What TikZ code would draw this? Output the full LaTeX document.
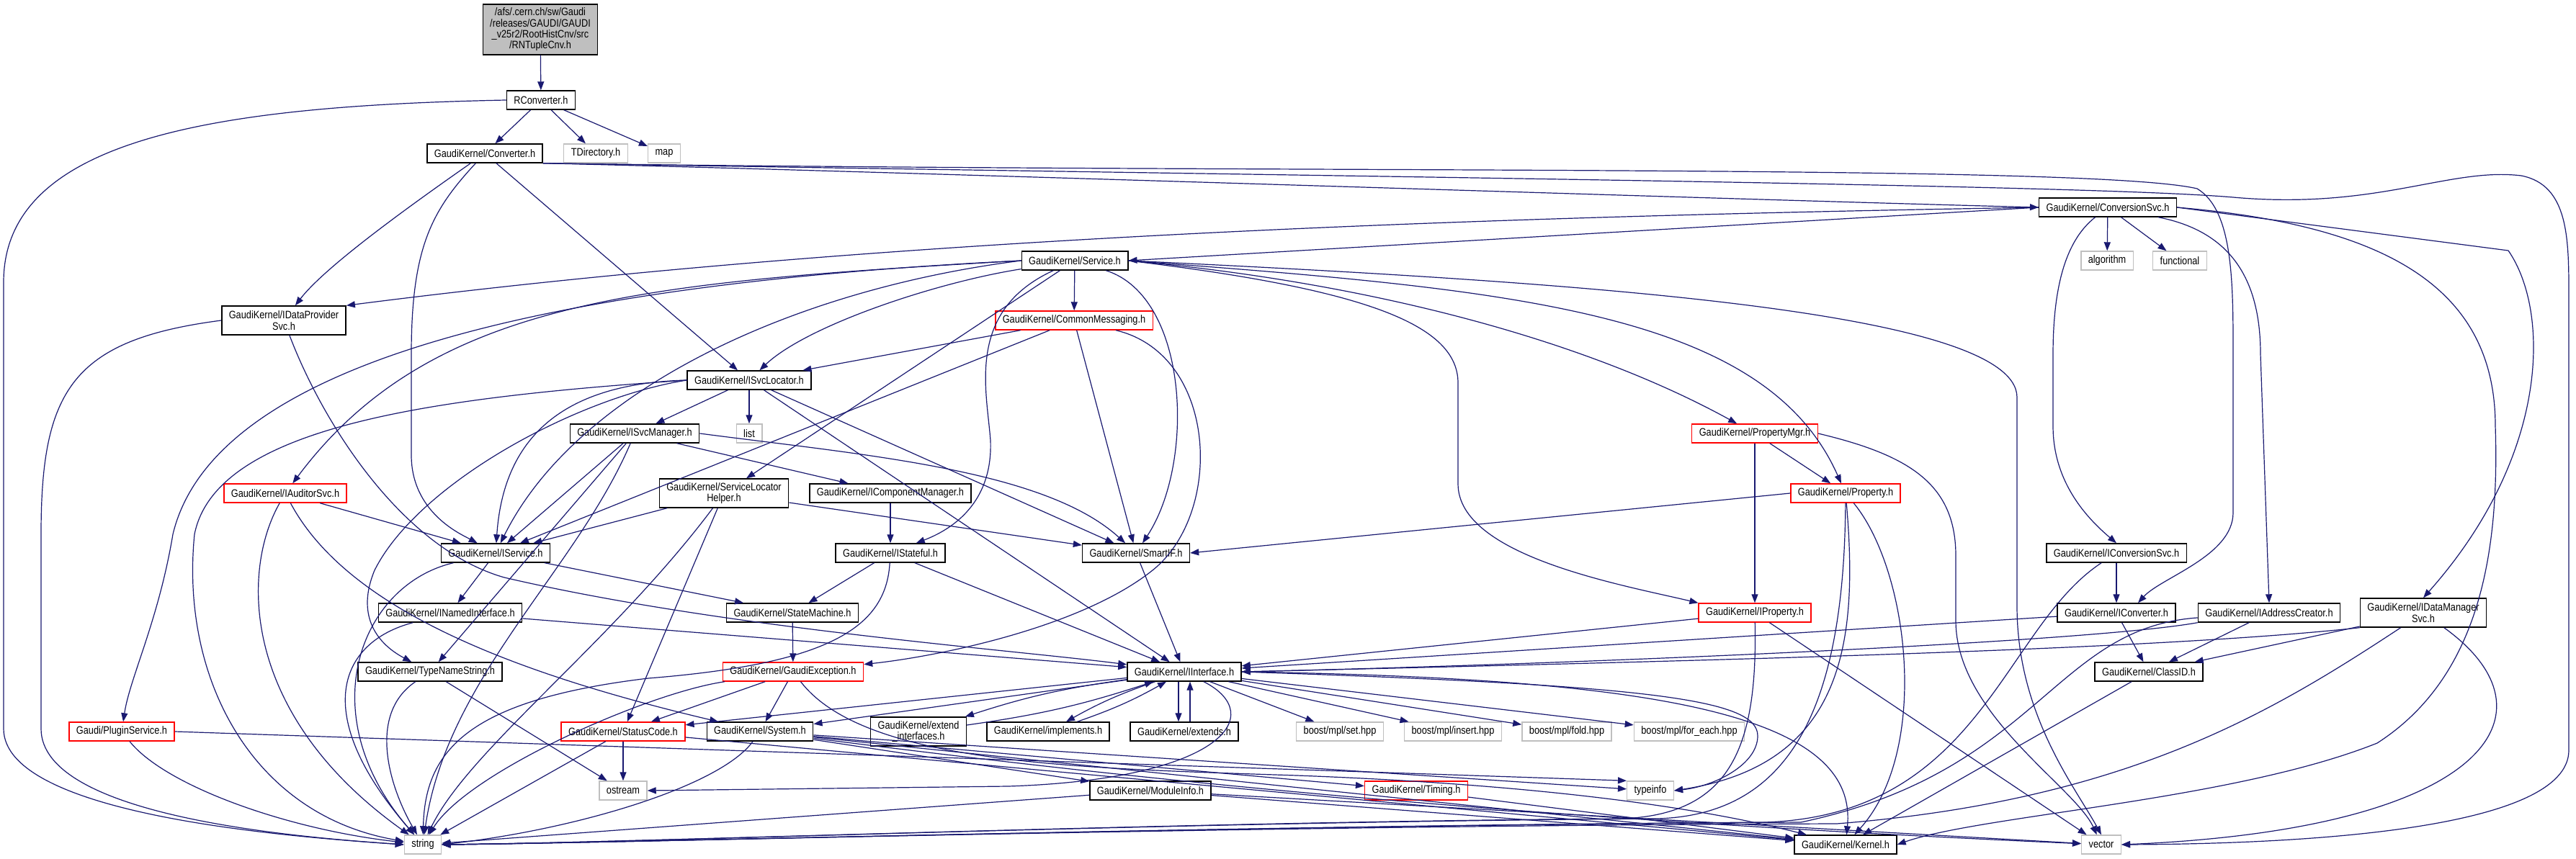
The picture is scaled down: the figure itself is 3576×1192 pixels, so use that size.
\documentclass[tikz,border=0pt]{standalone}
\usepackage{fontspec}
\setmainfont{Liberation Sans}[FakeStretch=0.85]
\usepackage{xcolor}
\usetikzlibrary{arrows.meta}

\definecolor{edgeblue}{HTML}{191970}
\definecolor{sysgray}{HTML}{BFBFBF}

\begin{document}
\begin{tikzpicture}[
  x=1pt, y=1pt,
  every node/.style={font=\fontsize{15}{15.3}\selectfont, inner xsep=10pt, inner ysep=2pt, minimum height=26pt},
  hdr/.style={draw=black, line width=1.4pt, fill=white},
  redhdr/.style={draw=red, line width=1.4pt, fill=white},
  syshdr/.style={draw=sysgray, line width=1.4pt, fill=white},
  dep/.style={draw=edgeblue, line width=1.2pt, -{Triangle[length=12pt, width=9pt]}},
]

\fill[white] (0,0) rectangle (3576,1192);
\useasboundingbox (0,0) rectangle (3576,1192);

\node[hdr, fill=sysgray, align=center, minimum height=70pt] (root) at (750,1151) {/afs/.cern.ch/sw/Gaudi\\/releases/GAUDI/GAUDI\\\_v25r2/RootHistCnv/src\\/RNTupleCnv.h};

\node[hdr] (rconv) at (751,1053) {RConverter.h};
\node[hdr] (conv) at (673,979) {GaudiKernel/Converter.h};
\node[syshdr] (tdir) at (827,979) {TDirectory.h};
\node[syshdr] (map) at (922,979) {map};
\node[hdr] (convsvc) at (2926,904) {GaudiKernel/ConversionSvc.h};
\node[hdr] (service) at (1492,830) {GaudiKernel/Service.h};
\node[syshdr] (algorithm) at (2925,830) {algorithm};
\node[syshdr] (functional) at (3026,830) {functional};
\node[hdr, align=center, minimum height=40pt] (idataprov) at (394,747) {GaudiKernel/IDataProvider\\Svc.h};
\node[redhdr] (commsg) at (1491,747) {GaudiKernel/CommonMessaging.h};
\node[hdr] (isvcloc) at (1040,664) {GaudiKernel/ISvcLocator.h};
\node[syshdr] (list) at (1040,590) {list};
\node[hdr] (isvcmgr) at (881,590) {GaudiKernel/ISvcManager.h};
\node[redhdr] (propmgr) at (2436,590) {GaudiKernel/PropertyMgr.h};
\node[redhdr] (iauditor) at (396,507) {GaudiKernel/IAuditorSvc.h};
\node[hdr, align=center, minimum height=40pt] (slochelper) at (1005,507) {GaudiKernel/ServiceLocator\\Helper.h};
\node[hdr] (icompmgr) at (1236,507) {GaudiKernel/IComponentManager.h};
\node[redhdr] (property) at (2562,507) {GaudiKernel/Property.h};
\node[hdr] (iservice) at (688,424) {GaudiKernel/IService.h};
\node[hdr] (istateful) at (1236,424) {GaudiKernel/IStateful.h};
\node[hdr] (smartif) at (1577,424) {GaudiKernel/SmartIF.h};
\node[hdr] (iconvsvc) at (2938,424) {GaudiKernel/IConversionSvc.h};
\node[hdr] (inamed) at (625,341) {GaudiKernel/INamedInterface.h};
\node[hdr] (statemach) at (1100,341) {GaudiKernel/StateMachine.h};
\node[redhdr] (iproperty) at (2436,341) {GaudiKernel/IProperty.h};
\node[hdr] (iconverter) at (2938,341) {GaudiKernel/IConverter.h};
\node[hdr] (iaddr) at (3150,341) {GaudiKernel/IAddressCreator.h};
\node[hdr, align=center, minimum height=40pt] (idatamgr) at (3364,341) {GaudiKernel/IDataManager\\Svc.h};
\node[hdr] (typename) at (597,259) {GaudiKernel/TypeNameString.h};
\node[redhdr] (gexcept) at (1101,259) {GaudiKernel/GaudiException.h};
\node[hdr] (iinterface) at (1644,259) {GaudiKernel/IInterface.h};
\node[hdr] (classid) at (2983,259) {GaudiKernel/ClassID.h};
\node[redhdr] (plugin) at (169,176) {Gaudi/PluginService.h};
\node[redhdr] (statuscode) at (865,176) {GaudiKernel/StatusCode.h};
\node[hdr] (system) at (1055,176) {GaudiKernel/System.h};
\node[hdr, align=center, minimum height=40pt] (extendif) at (1275,176) {GaudiKernel/extend\\\_interfaces.h};
\node[hdr] (implements) at (1455,176) {GaudiKernel/implements.h};
\node[hdr] (extends) at (1644,176) {GaudiKernel/extends.h};
\node[syshdr] (mplset) at (1860,176) {boost/mpl/set.hpp};
\node[syshdr] (mplinsert) at (2017,176) {boost/mpl/insert.hpp};
\node[syshdr] (mplfold) at (2175,176) {boost/mpl/fold.hpp};
\node[syshdr] (mplforeach) at (2345,176) {boost/mpl/for\_each.hpp};
\node[syshdr] (ostream) at (865,94) {ostream};
\node[hdr] (moduleinfo) at (1597,94) {GaudiKernel/ModuleInfo.h};
\node[redhdr] (timing) at (1966,94) {GaudiKernel/Timing.h};
\node[syshdr] (typeinfo) at (2291,94) {typeinfo};
\node[syshdr] (string) at (587,19) {string};
\node[hdr] (kernel) at (2562,19) {GaudiKernel/Kernel.h};
\node[syshdr] (vector) at (2917,19) {vector};

% top of the graph
\draw[dep] (root) -- (rconv);
\draw[dep] (rconv) -- (conv);
\draw[dep] (rconv) -- (tdir);
\draw[dep] (rconv) -- (map);
\draw[dep] (rconv.west) .. controls (300,1045) and (5,1000) .. (5,800) -- (5,180) .. controls (5,60) and (400,30) .. (string.west);

\draw[dep] (conv) .. controls (560,900) and (450,820) .. (idataprov);
\draw[dep] (conv) -- (isvcloc);
\draw[dep] (conv) .. controls (600,900) and (571,850) .. (571,700) -- (571,560) .. controls (571,480) and (640,450) .. (iservice);
\draw[dep] (conv.south east) .. controls (1200,955) and (2400,915) .. (convsvc.west);
\draw[dep] (conv.south east) .. controls (1800,950) and (2900,965) .. (3050,930) .. controls (3100,900) and (3100,800) .. (3100,700) -- (3100,480) .. controls (3100,420) and (3000,390) .. ([xshift=30pt]iconverter.north);
\draw[dep] (conv.south east) .. controls (2000,945) and (2900,935) .. (3100,918) .. controls (3300,900) and (3400,960) .. (3500,948) .. controls (3566,935) and (3566,860) .. (3566,780) -- (3566,150) .. controls (3566,40) and (3200,20) .. (vector.east);

% ConversionSvc.h
\draw[dep] (convsvc.west) -- (service.east);
\draw[dep] (convsvc.west) .. controls (2000,890) and (1200,860) .. (idataprov.north east);
\draw[dep] (convsvc) -- (algorithm);
\draw[dep] (convsvc) -- (functional);
\draw[dep] (convsvc) .. controls (2870,860) and (2850,800) .. (2850,700) -- (2850,600) .. controls (2850,520) and (2900,470) .. (iconvsvc.north);
\draw[dep] (convsvc) .. controls (3100,870) and (3138,800) .. (3138,700) -- (iaddr.north);
\draw[dep] (convsvc.east) -- (3482,844) .. controls (3540,760) and (3540,560) .. (idatamgr.north);
\draw[dep] (convsvc.east) .. controls (3300,880) and (3464,800) .. (3464,600) .. controls (3470,420) and (3440,250) .. (3300,160) .. controls (3100,80) and (2750,60) .. (kernel.east);

% Service.h
\draw[dep] (service) -- (commsg);
\draw[dep] (service) .. controls (1300,800) and (1120,740) .. (isvcloc);
\draw[dep] (service.west) .. controls (1100,790) and (800,650) .. (iservice);
\draw[dep] (service) -- (slochelper);
\draw[dep] (service) .. controls (1340,760) and (1370,650) .. (1375,580) .. controls (1378,500) and (1330,460) .. (istateful);
\draw[dep] (service) .. controls (1650,780) and (1660,550) .. (smartif);
\draw[dep] (service.east) .. controls (1900,790) and (2024,740) .. (2024,660) -- (2024,520) .. controls (2024,420) and (2250,380) .. (iproperty.north west);
\draw[dep] (service.east) .. controls (1900,800) and (2200,720) .. (propmgr);
\draw[dep] (service.east) .. controls (2100,790) and (2450,760) .. (property);
\draw[dep] (service.east) .. controls (2200,800) and (2800,760) .. (2800,640) -- (2800,350) .. controls (2800,200) and (2880,100) .. (vector.north);
\draw[dep] (service.west) .. controls (900,800) and (600,780) .. (iauditor);
\draw[dep] (service.west) .. controls (800,800) and (300,700) .. (240,450) .. controls (220,330) and (180,250) .. (plugin);

% CommonMessaging.h
\draw[dep] (commsg) -- (isvcloc);
\draw[dep] (commsg) -- (iservice);
\draw[dep] (commsg) -- (smartif);
\draw[dep] (commsg) .. controls (1690,700) and (1700,480) .. (1600,400) .. controls (1500,320) and (1300,280) .. (gexcept);

% ISvcLocator.h, ISvcManager.h
\draw[dep] (isvcloc) -- (isvcmgr);
\draw[dep] (isvcloc) -- (list);
\draw[dep] (isvcloc) -- (iinterface);
\draw[dep] (isvcloc) -- (smartif);
\draw[dep] (isvcloc.west) .. controls (800,660) and (700,600) .. (iservice);
\draw[dep] (isvcloc.west) .. controls (600,640) and (300,600) .. (270,450) .. controls (250,250) and (350,60) .. (string);
\draw[dep] (isvcloc.west) .. controls (800,640) and (580,520) .. (520,400) .. controls (495,340) and (520,300) .. (typename);
\draw[dep] (isvcmgr) -- (icompmgr);
\draw[dep] (isvcmgr.east) .. controls (1200,560) and (1450,540) .. (smartif);
\draw[dep] (isvcmgr) -- (iservice);
\draw[dep] (isvcmgr) -- (typename);
\draw[dep] (isvcmgr) .. controls (800,400) and (620,250) .. (string);

% left side
\draw[dep] (iauditor) -- (iservice);
\draw[dep] (iauditor) .. controls (335,400) and (333,200) .. (string);
\draw[dep] (iauditor) .. controls (480,350) and (700,260) .. (system);
\draw[dep] (plugin) .. controls (230,100) and (400,40) .. (string);
\draw[dep] (plugin.east) -- (typeinfo.north west);
\draw[dep] (idataprov.west) .. controls (100,720) and (57,650) .. (57,450) -- (57,180) .. controls (57,60) and (400,30) .. (string.west);
\draw[dep] (idataprov) .. controls (450,600) and (560,430) .. (700,390) .. controls (1000,320) and (1400,290) .. (iinterface);

% middle
\draw[dep] (slochelper) -- (iservice);
\draw[dep] (slochelper) -- (smartif);
\draw[dep] (slochelper) -- (statuscode);
\draw[dep] (slochelper) .. controls (850,300) and (650,150) .. (string);
\draw[dep] (icompmgr) -- (istateful);
\draw[dep] (istateful) -- (statemach);
\draw[dep] (istateful) -- (iinterface);
\draw[dep] (istateful) .. controls (1230,320) and (1150,270) .. (900,250) .. controls (650,220) and (590,150) .. (string);
\draw[dep] (smartif) -- (iinterface);
\draw[dep] (statemach) -- (gexcept);
\draw[dep] (gexcept) -- (statuscode);
\draw[dep] (gexcept) -- (system);
\draw[dep] (gexcept) .. controls (900,230) and (650,120) .. (string);
\draw[dep] (gexcept) .. controls (1200,130) and (1500,125) .. (1800,115) .. controls (2200,100) and (2400,60) .. (kernel);
\draw[dep] (iservice) -- (inamed);
\draw[dep] (iservice) -- (statemach);
\draw[dep] (iservice) .. controls (500,380) and (430,200) .. (string);
\draw[dep] (inamed) -- (iinterface);
\draw[dep] (inamed) .. controls (470,300) and (430,200) .. (string);
\draw[dep] (typename) .. controls (510,200) and (540,100) .. (string);
\draw[dep] (typename) -- (ostream);

% IInterface.h
\draw[dep] (iinterface) -- (statuscode);
\draw[dep] (iinterface) -- (system);
\draw[dep] (iinterface) to[bend right=5] (extendif);
\draw[dep] (extendif) to[bend right=5] (iinterface);
\draw[dep] (iinterface) to[bend right=5] (implements);
\draw[dep] (implements) to[bend right=5] (iinterface);
\draw[dep] ([xshift=-8pt]iinterface.south) -- ([xshift=-8pt]extends.north);
\draw[dep] ([xshift=8pt]extends.north) -- ([xshift=8pt]iinterface.south);
\draw[dep] (iinterface) -- (mplset);
\draw[dep] (iinterface) -- (mplinsert);
\draw[dep] (iinterface) -- (mplfold);
\draw[dep] (iinterface) -- (mplforeach);
\draw[dep] (iinterface.east) .. controls (2300,240) and (2440,220) .. (2440,170) .. controls (2440,130) and (2380,100) .. (typeinfo.east);
\draw[dep] (iinterface) .. controls (1760,200) and (1700,110) .. (1400,100) -- (ostream.east);
\draw[dep] (iinterface.east) .. controls (2300,250) and (2580,200) .. (kernel);

% bottom rows
\draw[dep] (statuscode) -- (ostream);
\draw[dep] (statuscode) -- (string);
\draw[dep] (statuscode) -- (kernel);
\draw[dep] (system) -- (moduleinfo);
\draw[dep] (system) -- (timing);
\draw[dep] (system) -- (typeinfo);
\draw[dep] (system) -- (kernel);
\draw[dep] (system) .. controls (1500,120) and (2000,60) .. (vector);
\draw[dep] (system) .. controls (1000,100) and (800,40) .. (string.east);
\draw[dep] (moduleinfo) -- (kernel);
\draw[dep] (moduleinfo) -- (string);
\draw[dep] (moduleinfo) -- (vector);
\draw[dep] (timing) -- (kernel);

% right side
\draw[dep] (propmgr) -- (property);
\draw[dep] (propmgr) -- (iproperty);
\draw[dep] (propmgr.east) .. controls (2650,560) and (2715,520) .. (2715,420) -- (2715,330) .. controls (2715,200) and (2880,100) .. (vector);
\draw[dep] (property.west) -- (smartif.east);
\draw[dep] (property) .. controls (2560,200) and (2480,60) .. (2300,55) .. controls (1600,50) and (900,22) .. (string.east);
\draw[dep] (property) .. controls (2580,300) and (2560,130) .. (typeinfo.east);
\draw[dep] (property) .. controls (2650,400) and (2680,150) .. (kernel);
\draw[dep] (iproperty) -- (iinterface);
\draw[dep] (iproperty) .. controls (2440,150) and (2400,60) .. (2250,55) .. controls (1600,50) and (900,22) .. (string.east);
\draw[dep] (iproperty) -- (vector);
\draw[dep] (iconvsvc) -- (iconverter);
\draw[dep] (iconvsvc) .. controls (2780,320) and (2750,60) .. (2450,50) .. controls (1700,45) and (900,22) .. (string.east);
\draw[dep] (iconverter) -- (iinterface);
\draw[dep] (iconverter) -- (classid);
\draw[dep] (iaddr.south west) .. controls (2900,300) and (2200,270) .. (iinterface.east);
\draw[dep] (iaddr) -- (classid);
\draw[dep] (iaddr) .. controls (2850,320) and (2830,120) .. (2500,50) .. controls (1700,45) and (900,22) .. (string.east);
\draw[dep] (idatamgr.south west) .. controls (3000,290) and (2400,275) .. (iinterface.east);
\draw[dep] (idatamgr) -- (classid);
\draw[dep] (idatamgr) .. controls (3150,200) and (2950,80) .. (2550,48) .. controls (1700,45) and (900,22) .. (string.east);
\draw[dep] (idatamgr) .. controls (3560,200) and (3450,40) .. (vector.east);
\draw[dep] (classid) -- (kernel);

\end{tikzpicture}
\end{document}
